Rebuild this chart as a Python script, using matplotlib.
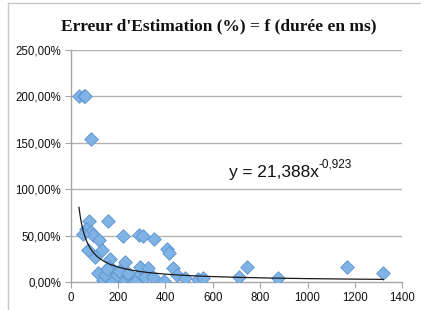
import numpy as np
import matplotlib
matplotlib.use("Agg")
import matplotlib.pyplot as plt
from matplotlib.ticker import FuncFormatter
from matplotlib.lines import Line2D

# Data: duration (ms) vs estimation error (fraction)
duree_ms = [35, 55, 62, 86,
            78, 159, 65, 84, 95, 51, 220, 290, 304, 120, 350,
            74, 131, 103, 166, 229, 405, 413,
            117, 163, 180, 138, 159, 173, 215, 229, 250, 264, 279,
            145, 194, 271, 293, 314, 328, 349, 395, 433, 447, 482,
            539, 560, 712, 745, 874, 1165, 1320, 152, 205, 240]
erreur = [2.00, 2.00, 2.00, 1.54,
          0.66, 0.66, 0.575, 0.54, 0.505, 0.515, 0.50, 0.51, 0.49, 0.45, 0.46,
          0.345, 0.345, 0.265, 0.25, 0.22, 0.36, 0.31,
          0.095, 0.165, 0.13, 0.022, 0.057, 0.003, 0.093, 0.022, 0.057, 0.003, 0.057,
          0.075, 0.075, 0.003, 0.165, 0.057, 0.148, 0.057, 0.01, 0.155, 0.075, 0.046,
          0.032, 0.04, 0.057, 0.158, 0.046, 0.158, 0.093, 0.14, 0.12, 0.10]

# Power trendline shown on the chart: y = a * x^b
trend_a = 21.388
trend_b = -0.923

title = "Erreur d'Estimation (%) = f (durée en ms)"
x_ticks = [0, 200, 400, 600, 800, 1000, 1200, 1400]
y_ticks = [0, 0.5, 1.0, 1.5, 2.0, 2.5]

W, H = 421, 310
fig = plt.figure(figsize=(W / 100, H / 100), dpi=100)
ax = fig.add_axes([70.7 / W, 1 - 282 / H, (402.3 - 70.7) / W, (282 - 49.7) / H])

grid_c = "#b3b3b3"
for yv in y_ticks[1:]:
    ax.axhline(yv, color=grid_c, lw=1.0, zorder=0)

ax.scatter(duree_ms, erreur, marker="D", s=48, color="#7fb2e5",
           edgecolors="#5d93cf", linewidths=0.6, zorder=3)

xs = np.linspace(min(duree_ms), max(duree_ms), 400)
ax.plot(xs, trend_a * xs ** trend_b, color="#1a1a1a", lw=0.9, zorder=4)

ax.set_xlim(0, 1400)
ax.set_ylim(0, 2.5)
ax.set_xticks(x_ticks)
ax.set_yticks(y_ticks)
ax.yaxis.set_major_formatter(FuncFormatter(lambda v, p: f"{v*100:.2f}%".replace(".", ",")))

for s in ["top", "right"]:
    ax.spines[s].set_visible(False)
for s in ["left", "bottom"]:
    ax.spines[s].set_color("#a6a6a6")
    ax.spines[s].set_linewidth(1.0)
ax.tick_params(axis="both", direction="out", length=4, color="#a6a6a6",
               labelsize=8.3, labelcolor="#111111", pad=3)
for lab in ax.get_xticklabels() + ax.get_yticklabels():
    lab.set_family("Liberation Sans")

fig.text((65 + 373) / 2 / W, 1 - 26 / H, title, ha="center", va="center",
         fontsize=12.5, fontweight="bold", family="Liberation Serif", color="#111111")

t = fig.text(229 / W, 1 - 172 / H, "y = 21,388x", fontsize=12.4,
             family="Liberation Sans", color="#111111", va="center", ha="left")
ax.annotate("-0,923", xy=(1, 0.6), xycoords=t, fontsize=8.5,
            family="Liberation Sans", color="#111111", va="bottom", ha="left")

# outer chart frame (top and left visible)
fig.add_artist(Line2D([8 / W, 1], [1 - 3 / H, 1 - 3 / H], color="#c8c8c8", lw=1,
                      transform=fig.transFigure))
fig.add_artist(Line2D([8 / W, 8 / W], [0, 1 - 3 / H], color="#c8c8c8", lw=1,
                      transform=fig.transFigure))

fig.savefig("out.png", dpi=100)
